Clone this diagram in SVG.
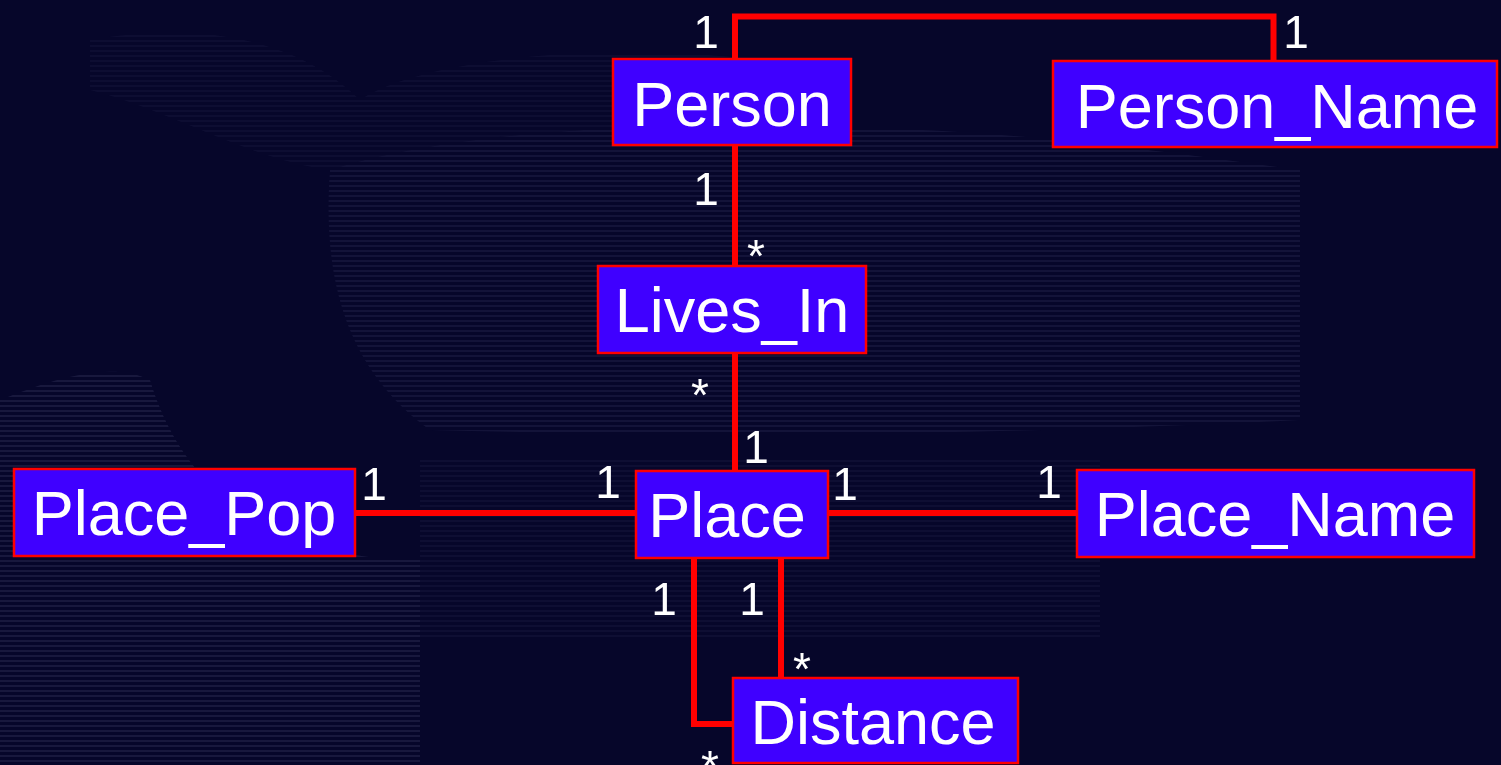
<svg xmlns="http://www.w3.org/2000/svg" width="1501" height="765" viewBox="0 0 1501 765">
  <defs>
    <style>
      .node rect { fill: #3f00ff; stroke: #ff0000; stroke-width: 2.5; }
      .node text { font-family: "Liberation Sans", Arial, sans-serif; font-size: 63px; fill: #ffffff; text-anchor: middle; }
      .conn { fill: none; stroke: #ff0000; stroke-width: 6; stroke-linejoin: miter; }
      .lbl { font-family: "Liberation Sans", Arial, sans-serif; font-size: 46px; fill: #ffffff; text-anchor: middle; }
    </style>
    <pattern id="scan" width="8" height="5" patternUnits="userSpaceOnUse">
      <rect x="0" y="0" width="8" height="2" fill="#9a9ac8"/>
    </pattern>
  </defs>
  <rect x="0" y="0" width="1501" height="765" fill="#06062a"/>
  <g id="background" opacity="0.16">
    <path d="M0,400 C50,380 110,360 150,380 C180,480 260,560 420,560 L420,765 L0,765 Z" fill="url(#scan)" opacity="0.8"/>
    <path d="M330,170 C420,140 600,120 760,130 C950,120 1150,150 1300,170 L1300,420 C1100,430 800,440 430,430 C360,380 320,300 330,170 Z" fill="url(#scan)" opacity="0.6"/>
    <path d="M90,40 C200,20 300,40 360,100 C420,60 600,40 760,60 L760,130 C600,120 420,140 330,170 C250,160 170,110 90,90 Z" fill="url(#scan)" opacity="0.35"/>
    <path d="M420,460 L1100,460 L1100,640 L420,640 Z" fill="url(#scan)" opacity="0.4"/>
  </g>
  <g id="connectors">
    <path class="conn" d="M735,59 V16.5 H1273.5 V61"/>
    <path class="conn" d="M735,145 V266"/>
    <path class="conn" d="M735,353 V471"/>
    <path class="conn" d="M355,513 H636"/>
    <path class="conn" d="M828,513 H1077"/>
    <path class="conn" d="M694,558 V724 H733"/>
    <path class="conn" d="M781,558 V678"/>
  </g>
  <g id="labels">
    <text class="lbl" x="706" y="48">1</text>
    <text class="lbl" x="1296" y="48">1</text>
    <text class="lbl" x="706" y="205">1</text>
    <text class="lbl" x="756" y="272">*</text>
    <text class="lbl" x="700" y="411">*</text>
    <text class="lbl" x="756" y="463">1</text>
    <text class="lbl" x="374" y="500">1</text>
    <text class="lbl" x="608" y="498">1</text>
    <text class="lbl" x="845" y="500">1</text>
    <text class="lbl" x="1049" y="498">1</text>
    <text class="lbl" x="664" y="615">1</text>
    <text class="lbl" x="752" y="615">1</text>
    <text class="lbl" x="802" y="685">*</text>
    <text class="lbl" x="710" y="783">*</text>
  </g>
  <g id="Person" class="node">
    <rect x="613" y="59" width="238" height="86"/>
    <text x="732" y="126">Person</text>
  </g>
  <g id="Person_Name" class="node">
    <rect x="1053" y="61" width="444" height="86"/>
    <text x="1277" y="128">Person_Name</text>
  </g>
  <g id="Lives_In" class="node">
    <rect x="598" y="266" width="268" height="87"/>
    <text x="732" y="332">Lives_In</text>
  </g>
  <g id="Place_Pop" class="node">
    <rect x="14" y="469" width="341" height="87"/>
    <text x="184" y="535">Place_Pop</text>
  </g>
  <g id="Place" class="node">
    <rect x="636" y="471" width="192" height="87"/>
    <text x="727" y="537">Place</text>
  </g>
  <g id="Place_Name" class="node">
    <rect x="1077" y="470" width="397" height="87"/>
    <text x="1275" y="536">Place_Name</text>
  </g>
  <g id="Distance" class="node">
    <rect x="733" y="678" width="285" height="85"/>
    <text x="873" y="744">Distance</text>
  </g>
</svg>
